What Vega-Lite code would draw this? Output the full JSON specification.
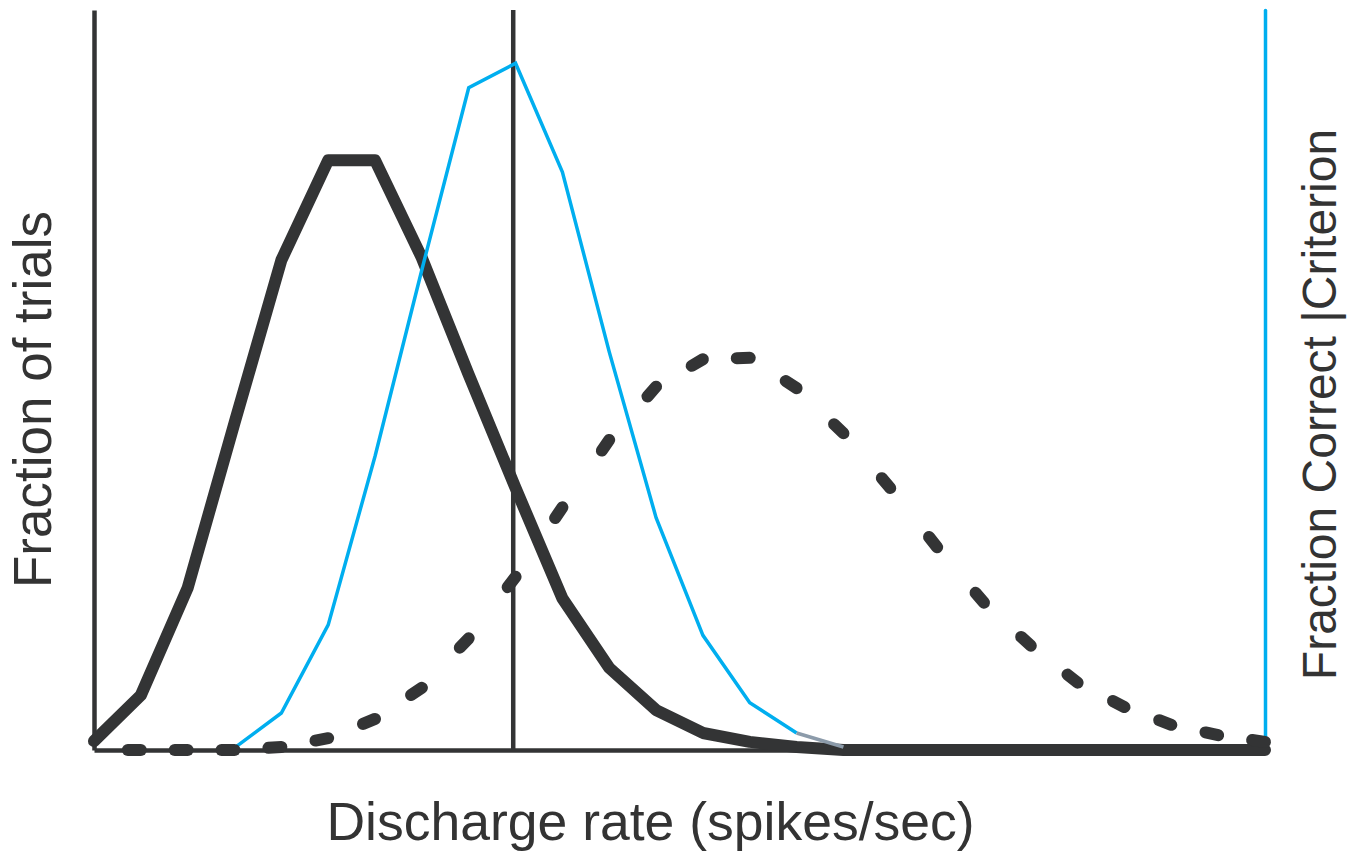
{
  "$schema": "https://vega.github.io/schema/vega-lite/v6.json",
  "width": 1171,
  "height": 740,
  "autosize": {"type": "none"},
  "padding": {"left": 94, "top": 10, "right": 83, "bottom": 102},
  "background": "white",
  "config": {"view": {"stroke": null}},
  "datasets": {
    "criterion": [{"x": 8.95, "y": 0, "y2": 1}],
    "solid": [
      {"x": 0, "y": 0.012}, {"x": 1, "y": 0.074}, {"x": 2, "y": 0.219}, {"x": 3, "y": 0.442},
      {"x": 4, "y": 0.662}, {"x": 5, "y": 0.797}, {"x": 6, "y": 0.797}, {"x": 7, "y": 0.665},
      {"x": 8, "y": 0.507}, {"x": 9, "y": 0.354}, {"x": 10, "y": 0.205}, {"x": 11, "y": 0.111},
      {"x": 12, "y": 0.054}, {"x": 13, "y": 0.023}, {"x": 14, "y": 0.011}, {"x": 15, "y": 0.004},
      {"x": 16, "y": 0}, {"x": 17, "y": 0}, {"x": 18, "y": 0}, {"x": 19, "y": 0},
      {"x": 20, "y": 0}, {"x": 21, "y": 0}, {"x": 22, "y": 0}, {"x": 23, "y": 0},
      {"x": 24, "y": 0}, {"x": 25, "y": 0}
    ],
    "blue": [
      {"x": 3, "y": 0.003}, {"x": 4, "y": 0.050}, {"x": 5, "y": 0.169}, {"x": 6, "y": 0.397},
      {"x": 7, "y": 0.649}, {"x": 8, "y": 0.895}, {"x": 9, "y": 0.928}, {"x": 10, "y": 0.781},
      {"x": 11, "y": 0.538}, {"x": 12, "y": 0.314}, {"x": 13, "y": 0.155}, {"x": 14, "y": 0.064},
      {"x": 15, "y": 0.023}
    ],
    "grey": [{"x": 15, "y": 0.023}, {"x": 16, "y": 0.004}],
    "dashed": [
      {"x": 0, "y": 0}, {"x": 1, "y": 0}, {"x": 2, "y": 0}, {"x": 3, "y": 0},
      {"x": 4, "y": 0.004}, {"x": 5, "y": 0.016}, {"x": 6, "y": 0.042}, {"x": 7, "y": 0.084},
      {"x": 8, "y": 0.151}, {"x": 9, "y": 0.234}, {"x": 10, "y": 0.328}, {"x": 11, "y": 0.419},
      {"x": 12, "y": 0.491}, {"x": 13, "y": 0.528}, {"x": 14, "y": 0.530}, {"x": 15, "y": 0.489},
      {"x": 16, "y": 0.428}, {"x": 17, "y": 0.354}, {"x": 18, "y": 0.274}, {"x": 19, "y": 0.199},
      {"x": 20, "y": 0.141}, {"x": 21, "y": 0.091}, {"x": 22, "y": 0.058}, {"x": 23, "y": 0.034},
      {"x": 24, "y": 0.020}, {"x": 25, "y": 0.011}
    ]
  },
  "encoding": {
    "x": {
      "field": "x", "type": "quantitative",
      "scale": {"domain": [0, 25], "nice": false, "zero": false},
      "axis": {
        "title": "Discharge rate (spikes/sec)",
        "labels": false, "ticks": false, "grid": false,
        "domainColor": "#333435", "domainWidth": 4.5,
        "titleFont": "Liberation Sans", "titleFontSize": 53.5, "titleFontWeight": "normal",
        "titleColor": "#333333", "titleX": 556, "titleY": 89,
        "titleBaseline": "alphabetic", "titleAlign": "center"
      }
    },
    "y": {
      "field": "y", "type": "quantitative",
      "scale": {"domain": [0, 1], "nice": false},
      "axis": null
    }
  },
  "resolve": {"axis": {"y": "independent"}},
  "layer": [
    {
      "data": {"name": "criterion"},
      "mark": {"type": "rule", "color": "#333435", "strokeWidth": 4.5},
      "encoding": {"y2": {"field": "y2"}}
    },
    {
      "data": {"name": "solid"},
      "mark": {"type": "line", "color": "#333435", "strokeWidth": 12, "strokeJoin": "round", "strokeCap": "round"},
      "encoding": {
        "y": {
          "field": "y", "type": "quantitative",
          "scale": {"domain": [0, 1], "nice": false},
          "axis": {
            "orient": "left", "title": "Fraction of trials",
            "labels": false, "ticks": false, "grid": false,
            "domainColor": "#333435", "domainWidth": 4.5,
            "titleFont": "Liberation Sans", "titleFontSize": 53, "titleFontWeight": "normal",
            "titleColor": "#333333", "titleAngle": 270, "titleX": -44, "titleY": 389,
            "titleBaseline": "alphabetic", "titleAlign": "center"
          }
        }
      }
    },
    {
      "data": {"name": "blue"},
      "mark": {"type": "line", "color": "#00AEEF", "strokeWidth": 3.5},
      "encoding": {
        "y": {
          "field": "y", "type": "quantitative",
          "scale": {"domain": [0, 1], "nice": false},
          "axis": {
            "orient": "right", "title": "Fraction Correct |Criterion",
            "labels": false, "ticks": false, "grid": false,
            "domainColor": "#00AEEF", "domainWidth": 3.5, "domainCap": "round",
            "titleFont": "Liberation Sans", "titleFontSize": 48, "titleFontWeight": "normal",
            "titleColor": "#333333", "titleAngle": 270, "titleX": 70, "titleY": 394,
            "titleBaseline": "alphabetic", "titleAlign": "center"
          }
        }
      }
    },
    {
      "data": {"name": "grey"},
      "mark": {"type": "line", "color": "#8C9BAA", "strokeWidth": 3.5}
    },
    {
      "data": {"name": "dashed"},
      "transform": [
        {"window": [{"op": "lag", "field": "x", "as": "xp"}, {"op": "lag", "field": "y", "as": "yp"}], "sort": [{"field": "x"}]},
        {"filter": "datum.xp != null"}
      ],
      "mark": {"type": "rule", "color": "#333435", "strokeWidth": 12, "strokeCap": "round", "strokeDash": [13, 400]},
      "encoding": {
        "x2": {"field": "xp"},
        "y2": {"field": "yp"}
      }
    }
  ]
}
